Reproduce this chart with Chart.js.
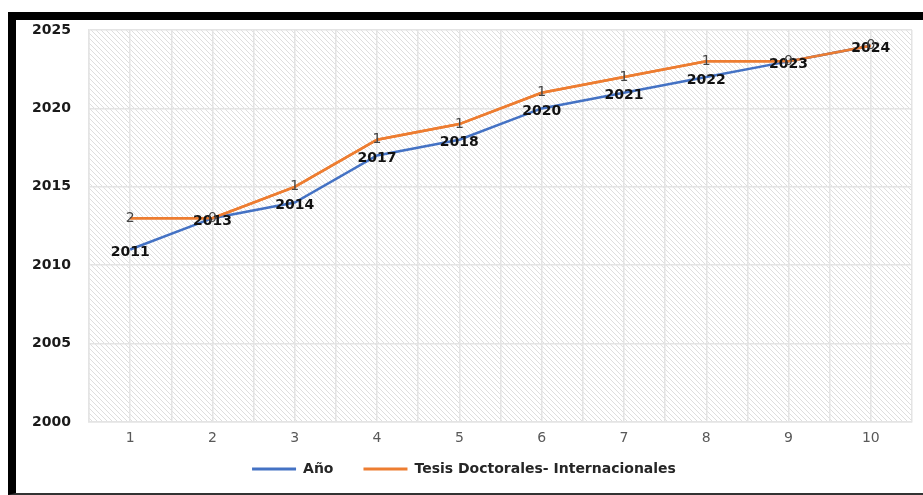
<!DOCTYPE html>
<html>
<head>
<meta charset="utf-8">
<script src="https://cdn.jsdelivr.net/npm/chart.js@4"></script>
<style>
  body { margin: 0; background: #fff; }
  #wrap {
    position: absolute; left: 8px; top: 12px;
    width: 907px; height: 473px;
    border-top: 8px solid #000; border-left: 8px solid #000;
    border-bottom: 2px solid #333;
  }
</style>
</head>
<body>
<div id="wrap"><canvas id="chart"></canvas></div>
<script>
  const categories = [1, 2, 3, 4, 5, 6, 7, 8, 9, 10];
  const anio = [2011, 2013, 2014, 2017, 2018, 2020, 2021, 2022, 2023, 2024];
  const tesis = [2, 0, 1, 1, 1, 1, 1, 1, 0, 0];
  const yTicks = [2000, 2005, 2010, 2015, 2020, 2025];

  const gridColor = '#e4e4e4';

  // diagonal hatch for the plot area
  function makeHatch(ctx) {
    const c = document.createElement('canvas');
    c.width = 5; c.height = 5;
    const g = c.getContext('2d');
    g.strokeStyle = '#dedede';
    g.lineWidth = 1;
    g.beginPath();
    g.moveTo(0, 0); g.lineTo(5, 5);
    g.moveTo(-1, 4); g.lineTo(1, 6);
    g.moveTo(4, -1); g.lineTo(6, 1);
    g.stroke();
    return ctx.createPattern(c, 'repeat');
  }

  const hatchBg = {
    id: 'hatchBg',
    beforeDraw(chart) {
      const { ctx, chartArea: a } = chart;
      ctx.save();
      ctx.fillStyle = makeHatch(ctx);
      ctx.fillRect(a.left, a.top, a.right - a.left, a.bottom - a.top);
      ctx.restore();
    }
  };

  const valueLabels = {
    id: 'valueLabels',
    afterDatasetsDraw(chart) {
      const ctx = chart.ctx;
      // put the orange line on top like the original
      chart.getDatasetMeta(1).controller.draw();
      ctx.save();
      ctx.textAlign = 'center';
      ctx.textBaseline = 'middle';
      chart.getDatasetMeta(0).data.forEach((pt, i) => {
        ctx.font = 'bold 14px "DejaVu Sans"';
        ctx.fillStyle = '#111';
        ctx.fillText(anio[i], pt.x, pt.y + 3);
      });
      chart.getDatasetMeta(1).data.forEach((pt, i) => {
        ctx.font = '14px "DejaVu Sans"';
        ctx.fillStyle = '#444';
        ctx.fillText(tesis[i], pt.x, pt.y);
      });
      ctx.restore();
    }
  };

  new Chart(document.getElementById('chart'), {
    type: 'line',
    data: {
      datasets: [{
        label: 'Año',
        data: categories.map((c, i) => ({ x: c, y: anio[i] })),
        borderColor: '#4472C4',
        backgroundColor: '#4472C4',
        borderWidth: 2.5,
        pointRadius: 0,
        tension: 0
      }, {
        label: 'Tesis Doctorales- Internacionales',
        data: categories.map((c, i) => ({ x: c, y: tesis[i] })),
        borderColor: '#ED7D31',
        backgroundColor: '#ED7D31',
        borderWidth: 2.5,
        pointRadius: 0,
        tension: 0
      }]
    },
    options: {
      responsive: true,
      maintainAspectRatio: false,
      animation: false,
      layout: { padding: { left: 0, right: 11, top: 10, bottom: 7 } },
      plugins: {
        tooltip: { enabled: false },
        legend: {
          position: 'bottom',
          labels: {
            boxWidth: 44,
            boxHeight: 3,
            padding: 30,
            color: '#262626',
            font: { family: '"DejaVu Sans"', size: 14, weight: 'bold' },
            generateLabels(chart) {
              return Chart.defaults.plugins.legend.labels.generateLabels(chart).map(l => {
                l.fillStyle = l.strokeStyle;
                l.lineWidth = 0;
                return l;
              });
            }
          }
        }
      },
      scales: {
        x: {
          type: 'linear',
          min: 0.5,
          max: 10.5,
          afterFit(scale) { scale.height = 10; },
          grid: { color: gridColor, lineWidth: 1.5, drawTicks: false },
          border: { color: gridColor, width: 1.5 },
          ticks: {
            stepSize: 0.5,
            autoSkip: false,
            maxRotation: 0,
            mirror: true,
            padding: -25,
            color: '#595959',
            font: { family: '"DejaVu Sans"', size: 14 },
            callback: v => Number.isInteger(v) ? String(v) : ''
          }
        },
        y: {
          stacked: true,
          min: yTicks[0],
          max: yTicks[yTicks.length - 1],
          afterFit(scale) { scale.width = 73; },
          afterBuildTicks(scale) { scale.ticks = yTicks.map(v => ({ value: v })); },
          grid: { color: gridColor, lineWidth: 1.5, drawTicks: true, tickLength: 18, tickColor: 'rgba(0,0,0,0)' },
          border: { color: gridColor, width: 1.5 },
          ticks: {
            padding: 0,
            color: '#1a1a1a',
            font: { family: '"DejaVu Sans"', size: 14, weight: 'bold' },
            callback: v => String(v)
          }
        }
      }
    },
    plugins: [hatchBg, valueLabels]
  });
</script>
</body>
</html>
